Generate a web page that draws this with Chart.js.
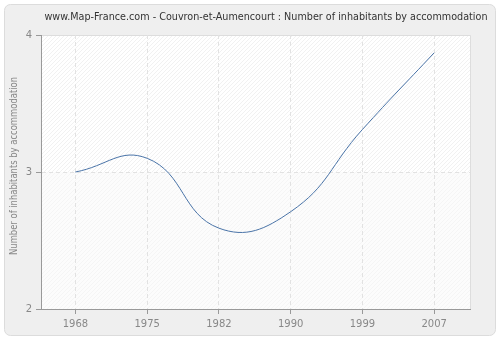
<!DOCTYPE html>
<html>
<head>
<meta charset="utf-8">
<script src="https://cdn.jsdelivr.net/npm/chart.js@4.4.0/dist/chart.umd.min.js"></script>
<style>
  html, body { margin: 0; padding: 0; background: #fff; }
  #wrap { width: 500px; height: 340px; }
</style>
</head>
<body>
<div id="wrap"><canvas id="c" width="500" height="340"></canvas></div>
<script>
// data
const years = ['1968', '1975', '1982', '1990', '1999', '2007'];
const inhabitants = [3.0, 3.1, 2.59, 2.71, 3.31, 3.87];
const yTicks = [2, 3, 4];
const chartTitle = 'www.Map-France.com - Couvron-et-Aumencourt : Number of inhabitants by accommodation';
const yTitle = 'Number of inhabitants by accommodation';

// panel background + hatched plot area
const backdrop = {
  id: 'backdrop',
  beforeDraw(chart) {
    const { ctx, chartArea: a, scales } = chart;
    ctx.save();
    ctx.fillStyle = '#ffffff';
    ctx.fillRect(0, 0, chart.width, chart.height);
    ctx.fillStyle = '#efefef';
    ctx.strokeStyle = '#dcdcdc';
    ctx.lineWidth = 1;
    ctx.beginPath();
    ctx.roundRect(4.5, 4.5, chart.width - 9, chart.height - 9, 6);
    ctx.fill();
    ctx.stroke();

    const y3 = scales.y.getPixelForValue(3);
    const mkPattern = (bg, line) => {
      const p = document.createElement('canvas');
      p.width = 4; p.height = 4;
      const pc = p.getContext('2d');
      pc.fillStyle = bg; pc.fillRect(0, 0, 4, 4);
      pc.strokeStyle = line; pc.lineWidth = 1;
      pc.beginPath();
      pc.moveTo(0, 4); pc.lineTo(4, 0);
      pc.moveTo(-2, 2); pc.lineTo(2, -2);
      pc.moveTo(2, 6); pc.lineTo(6, 2);
      pc.stroke();
      return ctx.createPattern(p, 'repeat');
    };
    ctx.fillStyle = mkPattern('#ffffff', '#f1f1f1');
    ctx.fillRect(a.left, a.top, a.right - a.left, y3 - a.top);
    ctx.fillStyle = mkPattern('#fcfcfc', '#f5f5f5');
    ctx.fillRect(a.left, y3, a.right - a.left, a.bottom - y3);
    ctx.strokeStyle = '#dddddd';
    ctx.beginPath();
    ctx.moveTo(a.left, a.top + 0.5); ctx.lineTo(a.right + 0.5, a.top + 0.5); ctx.lineTo(a.right + 0.5, a.bottom);
    ctx.stroke();

    // titles, squeezed a little to the narrower width of the original font
    ctx.fillStyle = '#333333';
    ctx.font = '10.5px "DejaVu Sans"';
    ctx.textAlign = 'center';
    ctx.textBaseline = 'middle';
    ctx.fillText(chartTitle, 266, 17, 443);

    ctx.fillStyle = '#888888';
    ctx.font = '10px "DejaVu Sans"';
    ctx.translate(14, 166);
    ctx.rotate(-Math.PI / 2);
    ctx.fillText(yTitle, 0, 0, 178);
    ctx.restore();
  }
};

new Chart(document.getElementById('c'), {
  type: 'line',
  data: {
    datasets: [{
      data: inhabitants.map((v, i) => ({ x: i, y: v })),
      borderColor: '#4a74a8',
      borderWidth: 1,
      pointRadius: 0,
      tension: 0.45,
      fill: false
    }]
  },
  options: {
    responsive: false,
    animation: false,
    layout: { padding: { left: 0, right: 30, top: 35, bottom: 0 } },
    plugins: {
      legend: { display: false },
      tooltip: { enabled: false },
      title: { display: false }
    },
    scales: {
      x: {
        type: 'linear',
        min: -0.48,
        max: 5.5,
        afterBuildTicks(scale) { scale.ticks = years.map((_, i) => ({ value: i })); },
        afterFit(scale) { scale.height = 31; },
        ticks: {
          autoSkip: false,
          maxRotation: 0,
          color: '#888888',
          font: { family: 'DejaVu Sans', size: 10 },
          padding: 4,
          callback: (v) => years[v]
        },
        grid: {
          color: '#e2e2e2',
          tickColor: '#999999',
          tickBorderDash: [],
          tickLength: 5
        },
        border: { display: true, color: '#999999', dash: [4, 3] }
      },
      y: {
        min: 2,
        max: 4,
        afterBuildTicks(scale) { scale.ticks = yTicks.map(v => ({ value: v })); },
        afterFit(scale) { scale.width = 41; },
        ticks: {
          color: '#888888',
          font: { family: 'DejaVu Sans', size: 10 },
          padding: 4
        },
        grid: {
          color: (c) => (c.tick && c.tick.value === 3 ? '#e2e2e2' : 'rgba(0,0,0,0)'),
          tickColor: '#999999',
          tickBorderDash: [],
          tickLength: 5
        },
        border: { display: true, color: '#999999', dash: [4, 3] }
      }
    }
  },
  plugins: [backdrop]
});
</script>
</body>
</html>
